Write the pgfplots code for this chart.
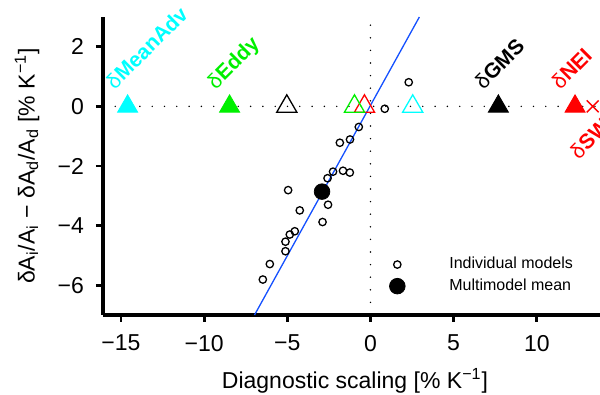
\documentclass[border=0pt]{standalone}
\usepackage{fontspec}
\setmainfont{Liberation Sans}
\usepackage{pgfplots}
\pgfplotsset{compat=1.18}
\definecolor{mcyan}{RGB}{0,255,255}
\definecolor{mgreen}{RGB}{0,240,0}
\definecolor{mred}{RGB}{255,0,0}
\definecolor{mblue}{RGB}{20,80,255}
\begin{document}
\begin{tikzpicture}
\begin{axis}[
  scale only axis,
  width=248.5pt, height=149pt,
  xmin=-16.08, xmax=13.8, ymin=-7, ymax=3,
  clip=false,
  axis lines=left,
  axis line style={-, line width=1.8pt, black},
  tick align=outside,
  major tick length=3.5pt,
  tick style={line width=1.4pt, black},
  xtick={-15,-10,-5,0,5,10},
  xticklabels={−15,−10,−5,0,5,10},
  ytick={-6,-4,-2,0,2},
  yticklabels={−6,−4,−2,0,2},
  ticklabel style={font=\fontsize{11.5}{13}\selectfont},
  xticklabel style={yshift=-3pt},
  yticklabel style={xshift=-2.5pt},
  xlabel={Diagnostic scaling [\% K\textsuperscript{−1}]},
  ylabel={δA\textsubscript{i}/A\textsubscript{i} − δA\textsubscript{d}/A\textsubscript{d} [\% K\textsuperscript{−1}]},
  label style={font=\fontsize{11.5}{13}\selectfont},
  xlabel style={at={(axis description cs:0.5,0)}, anchor=center, yshift=-33pt, xshift=1.75pt},
  ylabel style={at={(axis description cs:0,0.5)}, anchor=center, yshift=38pt},
  legend style={draw=none, fill=none, font=\fontsize{8}{9.5}\selectfont,
    at={(axis cs:0.75,-5.67)}, anchor=west, row sep=-0.5pt},
  legend cell align=left,
  legend image code/.code={\path[draw=none,fill=none] (-4pt,0pt) -- (24pt,0pt); \draw[#1] plot coordinates {(0pt,0pt)};},
]
% reference lines
\addplot[forget plot, black, line width=0.8pt, line cap=round, dash pattern=on 0pt off 6.15pt]
  coordinates {(-16.08,0) (13.8,0)};
\addplot[forget plot, black, line width=0.8pt, line cap=round, dash pattern=on 0pt off 6.3pt]
  coordinates {(0,-7) (0,3)};
% fit line
\addplot[forget plot, mblue, line width=0.65pt] coordinates {(-6.97,-7) (2.94,3)};
% individual models
\addplot[only marks, mark=o, mark size=1.85pt, mark options={line width=0.65pt, black}, black]
  coordinates {
  (-0.70,-0.69) (-1.84,-1.22) (-1.23,-1.11) (-2.25,-2.19) (-1.65,-2.16)
  (-1.24,-2.22) (-2.58,-2.41) (-4.95,-2.81) (-2.55,-3.30) (-4.25,-3.49)
  (-2.88,-3.88) (-4.55,-4.19) (-4.85,-4.30) (-5.11,-4.54) (-5.11,-4.86)
  (-6.05,-5.29) (-6.47,-5.81) (0.86,-0.08) (2.30,0.81)};
\addlegendentry{Individual models}
\addplot[only marks, mark=*, mark size=3.9pt, black] coordinates {(-2.91,-2.86)};
\addlegendentry{Multimodel mean}
% open triangles
\addplot[forget plot, only marks, mark=triangle, mark size=5.8pt, mark options={line width=0.65pt}, black] coordinates {(-5.03,0)};
\addplot[forget plot, only marks, mark=triangle, mark size=5.8pt, mark options={line width=0.65pt}, mred] coordinates {(-0.36,0)};
\addplot[forget plot, only marks, mark=triangle, mark size=5.8pt, mark options={line width=0.65pt}, mgreen] coordinates {(-0.96,0)};
\addplot[forget plot, only marks, mark=triangle, mark size=5.8pt, mark options={line width=0.65pt}, mcyan] coordinates {(2.54,0)};
% filled triangles
\addplot[forget plot, only marks, mark=triangle*, mark size=5.8pt, mcyan] coordinates {(-14.6,0)};
\addplot[forget plot, only marks, mark=triangle*, mark size=5.8pt, mgreen] coordinates {(-8.47,0)};
\addplot[forget plot, only marks, mark=triangle*, mark size=5.8pt, black] coordinates {(7.69,0)};
\addplot[forget plot, only marks, mark=triangle*, mark size=5.8pt, mred] coordinates {(12.3,0)};
\addplot[forget plot, only marks, mark=x, mark size=4.2pt, mark options={line width=0.7pt}, mred] coordinates {(13.36,0)};
% labels
\tikzset{lab/.style={rotate=45, anchor=base west, inner sep=0pt, font=\bfseries\fontsize{10.5}{12}\selectfont}}
\node[lab, text=mcyan] at ([shift={(-6.5pt,8pt)}]axis cs:-14.6,0) {{\mdseries δ}MeanAdv};
\node[lab, text=mgreen] at ([shift={(-7pt,8pt)}]axis cs:-8.47,0) {{\mdseries δ}Eddy};
\node[lab, text=black] at ([shift={(-7.5pt,8pt)}]axis cs:7.69,0) {{\mdseries δ}GMS};
\node[lab, text=mred] at ([shift={(-7.5pt,8pt)}]axis cs:12.3,0) {{\mdseries δ}NEI};
\node[lab, text=mred] at ([shift={(-7pt,-27pt)}]axis cs:13.36,0) {{\mdseries δ}SW};
\end{axis}
\pgfresetboundingbox
\path[use as bounding box] (current axis.south west) ++(-51.5pt,-40pt) rectangle ++(300pt,197.5pt);
\end{tikzpicture}
\end{document}
